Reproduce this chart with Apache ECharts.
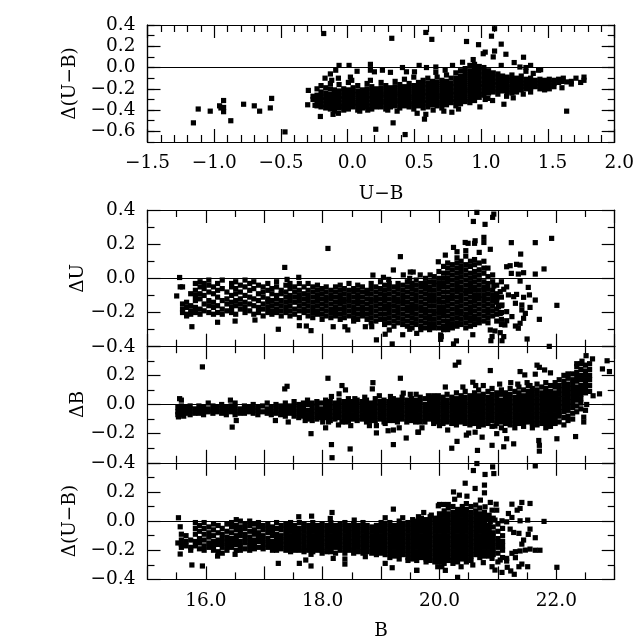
<!DOCTYPE html>
<html><head><meta charset="utf-8">
<style>html,body{margin:0;padding:0;background:#fff}#c{width:638px;height:638px}</style>
<script src="https://cdn.jsdelivr.net/npm/echarts@6/dist/echarts.min.js"></script>
</head><body><div id="c"></div>
<script>
const colourTicks = [-1.5,-1,-.5,0,.5,1,1.5,2];
const magnitudeLabels = [16,18,20,22];
const topPanelMajor = [-.6,-.4,-.2,0,.2,.4];
const fullLabels = [-.4,-.2,0,.2,.4];
const lowerLabels = [-.4,-.2,0,.2];

const topOutliers = [[-1.156,-.52],[-1.12,-.39],[-1.03,-.41],[-.96,-.36],[-.95,-.38],[-.93,-.31],[-.93,-.415],[-.93,-.375],[-.876,-.5],[-.78,-.345],[-.7,-.36],[-.66,-.41],[-.58,-.38],[-.57,-.29],[-.47,-.605],[-.295,-.215],[-.3,-.35],[-.245,-.355],[-.205,-.46],[-.18,.32],[.33,.275],[.585,.33],[.63,.265],[.21,-.58],[.34,-.52],[.43,-.63],[.52,-.43],[.585,-.44],[.575,-.485],[1.1,.365],[1.077,.295],[.89,.245],[.98,.215],[1.15,.22],[1.015,.13],[1.03,.145],[1.1,.155],[1.09,.1],[1.185,.125],[1.317,.097],[1.247,.047],[.94,.075],[.86,.05],[.785,.02],[1.15,.02],[1.29,.005],[1.37,.02],[1.335,0],[1.335,-.035],[1.39,-.055],[1.43,-.025],[1.445,-.02],[1.64,-.41],[1.17,-.345],[.99,-.37],[1.05,-.29],[1.085,-.31],[1.03,-.3],[1.19,-.27],[1.24,-.285],[1.315,-.25],[-.065,.02],[.01,.02],[-.09,-.025],[.07,-.035],[.17,.03],[.17,-.025],[.2,-.04],[.26,-.025],[.32,-.045],[.41,0],[.44,-.04],[.5,-.04],[.535,.02],[.59,0],[.66,.005],[.66,-.045],[.73,-.025],[-.17,-.1],[-.13,-.06],[-.12,-.12],[-.07,-.1],[.02,-.09],[.03,-.12],[.17,-.12],[.15,-.4],[-.11,-.44],[-.07,-.43],[.09,-.41],[.3,-.4],[.37,-.41],[.72,-.41],[.78,-.42],[.64,-.4],[.83,-.39]];
const topColumns = [
[-.26,-.27,-.3],[-.23,-.2,-.26,-.29,-.33,-.36],[-.2,-.17,-.23,-.27,-.3,-.34,-.37],[-.165,-.19,-.24,-.28,-.31,-.35,-.38],[-.13,-.15,-.2,-.25,-.29,-.32,-.36,-.39],[-.1,-.21,-.24,-.27,-.31,-.34,-.37,-.41],[-.065,-.16,-.22,-.26,-.29,-.33,-.36,-.38],[-.03,-.2,-.23,-.27,-.3,-.34,-.37,-.4],[.005,-.14,-.21,-.25,-.28,-.32,-.35,-.39],[.04,-.19,-.23,-.27,-.31,-.34,-.37],[.075,-.17,-.22,-.25,-.29,-.33,-.36,-.4],[.11,-.21,-.24,-.28,-.31,-.35,-.38],[.145,-.15,-.2,-.23,-.27,-.3,-.34,-.37],[.18,-.18,-.22,-.26,-.29,-.33,-.36,-.39],[.215,-.2,-.24,-.27,-.31,-.34,-.37],[.25,-.14,-.19,-.23,-.26,-.3,-.33,-.37],[.285,-.17,-.21,-.25,-.28,-.32,-.35,-.39],[.32,-.19,-.23,-.27,-.3,-.34,-.37],[.355,-.13,-.18,-.22,-.25,-.29,-.32,-.36],[.39,-.16,-.2,-.24,-.27,-.31,-.34,-.38],[.425,-.11,-.18,-.22,-.26,-.29,-.33,-.36],[.46,-.15,-.19,-.23,-.27,-.3,-.34,-.37],[.495,-.09,-.17,-.21,-.25,-.28,-.32,-.35,-.39],[.53,-.14,-.18,-.22,-.26,-.3,-.33,-.36],[.565,-.12,-.16,-.2,-.24,-.27,-.31,-.34,-.38],[.6,-.1,-.15,-.19,-.23,-.26,-.3,-.33,-.37],[.635,-.13,-.17,-.21,-.25,-.28,-.32,-.35],[.67,-.09,-.14,-.18,-.22,-.26,-.29,-.33,-.36],[.705,-.12,-.16,-.2,-.24,-.27,-.31,-.34,-.38],[.74,-.07,-.13,-.17,-.21,-.25,-.28,-.32,-.35],[.775,-.1,-.15,-.19,-.23,-.26,-.3,-.33],[.81,-.05,-.1,-.14,-.18,-.22,-.25,-.29,-.32,-.36],[.845,-.03,-.08,-.12,-.16,-.2,-.24,-.27,-.31,-.34],[.88,-.01,-.05,-.09,-.13,-.17,-.21,-.24,-.28,-.32],[.915,.02,-.03,-.07,-.11,-.15,-.19,-.22,-.26,-.3,-.33],[.95,.03,-.01,-.05,-.09,-.13,-.17,-.2,-.24,-.27,-.31],[.985,.01,-.03,-.07,-.11,-.15,-.18,-.22,-.25,-.28],[1.02,0,-.04,-.08,-.12,-.16,-.19,-.23,-.26],[1.055,-.03,-.07,-.1,-.14,-.17,-.21,-.24],[1.09,-.05,-.09,-.13,-.16,-.2,-.23],[1.125,-.06,-.1,-.14,-.17,-.21,-.25],[1.16,-.08,-.11,-.15,-.18,-.22],[1.195,-.09,-.12,-.16,-.19,-.23],[1.23,-.07,-.11,-.14,-.18,-.21,-.24],[1.265,-.1,-.13,-.17,-.2,-.23],[1.3,-.08,-.12,-.15,-.18,-.21],[1.335,-.11,-.14,-.17,-.2],[1.37,-.1,-.13,-.16,-.19,-.23],[1.405,-.12,-.15,-.18],[1.44,-.11,-.14,-.17,-.2],[1.475,-.12,-.15,-.18,-.21],[1.51,-.11,-.14,-.17,-.2],[1.545,-.12,-.15,-.18],[1.58,-.11,-.14],[1.605,-.19,-.13],[1.615,-.1],[1.64,-.135],[1.675,-.155,-.13],[1.71,-.1],[1.745,-.14],[1.77,-.09,-.12]];

const uOutliers = [[15.55,.005],[15.5,-.103],[15.56,-.05],[15.76,-.283],[16.2,-.257],[16.5,-.25],[16.84,-.244],[17.24,-.298],[17.35,.064],[17.39,-.006],[17.59,.006],[17.6,-.277],[17.72,-.279],[17.8,-.306],[18.09,.175],[18.18,-.283],[18.38,-.283],[18.43,-.302],[18.73,-.283],[18.84,-.283],[18.92,-.36],[19.07,-.327],[19.14,-.302],[19.19,-.384],[19.37,-.33],[19.49,-.298],[19.61,-.322],[20.03,-.341],[19.33,.127],[19.21,.049],[18.86,.019],[19.5,.037],[19.55,.037],[20.1,.136],[19.98,.097],[19.04,.006],[19.13,-.006],[19.38,.02],[19.49,0],[19.67,.02],[19.84,.02],[20.64,.386],[20.93,.376],[20.91,.357],[20.58,.333],[20.78,.316],[21.92,.234],[21.23,.209],[21.64,.209],[20.44,.21],[20.49,.205],[20.61,.22],[20.6,.205],[20.76,.24],[20.76,.21],[20.24,.181],[20.45,.162],[20.87,.17],[20.68,.152],[20.3,.156],[21.39,.142],[21.79,.055],[21.32,.082],[21.38,.078],[21.21,.074],[21.15,.068],[21.64,.025],[21.44,.033],[21.35,.025],[21.23,.029],[21.38,-.016],[21.52,-.053],[22.01,-.158],[21.64,-.127],[21.55,-.17],[21.71,-.24],[21.5,-.355],[21.88,-.398],[20.87,-.302],[20.95,-.308],[21.04,-.318],[20.9,-.341],[20.88,-.365],[21.1,-.341],[21.07,-.365],[20.29,-.366],[20.24,-.384],[20.57,-.33],[20.02,-.331],[20.02,-.357],[21.15,-.05],[21.1,-.064],[20.93,-.045],[21.04,-.078],[20.98,-.117],[21.18,-.097],[21.27,-.107],[21.32,-.094],[21.44,-.111],[21.54,-.097],[21.3,-.146],[21.41,-.156],[21.41,-.185],[21.47,-.205],[21.44,-.234],[21.38,-.263],[21.3,-.279],[21.35,-.292],[21.24,-.224],[21.15,-.248],[21.12,-.273],[21.04,-.205],[21.01,-.166],[21.07,-.156],[21.15,-.195]];
const uColumns = [
[15.6,-.05,-.15,-.18,-.2],[15.67,-.14,-.17,-.21,-.22],[15.74,-.09,-.16,-.19,-.21],[15.82,-.03,-.07,-.1,-.13,-.17,-.2],[15.9,-.02,-.05,-.09,-.12,-.18,-.21],[15.97,-.03,-.06,-.1,-.15,-.19],[16.05,-.01,-.04,-.08,-.13,-.16,-.2],[16.13,-.05,-.09,-.14,-.17,-.21],[16.2,-.03,-.07,-.11,-.16,-.2],[16.28,-.01,-.06,-.13,-.18,-.21],[16.36,-.08,-.12,-.15,-.19],[16.44,-.03,-.05,-.1,-.14,-.17,-.2],[16.51,-.02,-.06,-.09,-.13,-.16,-.21],[16.59,-.04,-.08,-.12,-.15,-.18],[16.67,-.01,-.05,-.1,-.14,-.17,-.2],[16.75,-.03,-.07,-.11,-.15,-.19],[16.82,-.02,-.06,-.12,-.16,-.21],[16.9,-.04,-.09,-.13,-.17,-.2],[16.98,-.05,-.08,-.11,-.15,-.18,-.22],[17.06,-.03,-.07,-.12,-.14,-.17,-.2],[17.13,-.06,-.09,-.13,-.16,-.19,-.21],[17.21,-.02,-.05,-.1,-.12,-.15,-.18,-.2],[17.29,-.07,-.09,-.13,-.16,-.19,-.22],[17.37,-.04,-.08,-.11,-.14,-.17,-.2],[17.44,-.03,-.06,-.1,-.13,-.16,-.19,-.22],[17.52,-.05,-.08,-.11,-.14,-.18,-.21],[17.6,-.03,-.07,-.1,-.13,-.16,-.19,-.23],[17.68,-.05,-.09,-.12,-.15,-.18,-.2],[17.75,-.03,-.07,-.1,-.13,-.16,-.19,-.22],[17.83,-.05,-.08,-.11,-.14,-.17,-.2,-.23],[17.91,-.04,-.07,-.1,-.13,-.16,-.19,-.21],[17.99,-.06,-.09,-.12,-.15,-.18,-.21,-.24],[18.06,-.05,-.08,-.11,-.13,-.16,-.19,-.22],[18.14,-.07,-.1,-.12,-.15,-.18,-.2,-.23],[18.22,-.05,-.08,-.11,-.14,-.17,-.2,-.22],[18.3,-.04,-.07,-.1,-.13,-.15,-.18,-.21,-.24],[18.37,-.06,-.09,-.12,-.14,-.17,-.2,-.23],[18.45,-.03,-.07,-.1,-.13,-.16,-.19,-.22],[18.53,-.06,-.08,-.11,-.14,-.17,-.2,-.23,-.25],[18.6,-.04,-.07,-.1,-.13,-.15,-.18,-.21,-.24],[18.68,-.05,-.08,-.11,-.14,-.17,-.2,-.22],[18.76,-.07,-.09,-.12,-.15,-.18,-.21,-.24],[18.83,-.03,-.06,-.09,-.12,-.14,-.17,-.2,-.23,-.26],[18.91,-.05,-.08,-.11,-.13,-.16,-.19,-.22,-.25],[18.99,-.02,-.06,-.09,-.12,-.15,-.18,-.21,-.24],[19.06,-.04,-.07,-.1,-.13,-.16,-.18,-.21,-.24,-.27],[19.14,-.03,-.06,-.09,-.12,-.15,-.17,-.2,-.23,-.26],[19.22,-.05,-.08,-.11,-.13,-.16,-.19,-.22,-.25,-.28],[19.29,-.03,-.06,-.09,-.12,-.14,-.17,-.2,-.23,-.26],[19.37,-.04,-.07,-.1,-.13,-.15,-.18,-.21,-.24,-.27],[19.45,-.02,-.05,-.08,-.11,-.14,-.17,-.19,-.22,-.25,-.28],[19.53,-.03,-.06,-.09,-.12,-.15,-.17,-.2,-.23,-.26,-.29],[19.6,-.01,-.04,-.07,-.1,-.13,-.16,-.18,-.21,-.24,-.27],[19.68,-.03,-.05,-.08,-.11,-.14,-.17,-.19,-.22,-.25,-.28,-.3],[19.76,0,-.03,-.06,-.09,-.12,-.15,-.18,-.2,-.23,-.26,-.29],[19.83,-.02,-.05,-.07,-.1,-.13,-.16,-.19,-.22,-.24,-.27,-.3],[19.91,.01,-.02,-.04,-.07,-.1,-.13,-.16,-.19,-.21,-.24,-.27,-.29],[19.99,.04,0,-.03,-.06,-.09,-.12,-.14,-.17,-.2,-.23,-.26,-.29],[20.07,.07,.03,0,-.03,-.05,-.08,-.11,-.14,-.17,-.2,-.22,-.25,-.28,-.3],[20.14,.09,.06,.03,0,-.02,-.05,-.08,-.11,-.13,-.16,-.19,-.22,-.25,-.27,-.3],[20.22,.05,.08,.02,-.01,-.04,-.07,-.1,-.12,-.15,-.18,-.21,-.24,-.27,-.29],[20.3,.12,.09,.06,.03,0,-.03,-.06,-.08,-.11,-.14,-.17,-.2,-.23,-.26,-.28],[20.37,.1,.07,.04,.01,-.02,-.05,-.07,-.1,-.13,-.16,-.19,-.21,-.24,-.27],[20.45,.13,.08,.05,.02,-.01,-.04,-.07,-.09,-.12,-.15,-.18,-.21,-.23,-.26,-.29],[20.53,.1,.07,.03,0,-.03,-.06,-.08,-.11,-.14,-.17,-.2,-.23,-.25,-.28],[20.6,.11,.08,.04,.01,-.02,-.05,-.07,-.1,-.13,-.16,-.19,-.22,-.24,-.27],[20.68,.09,.05,.02,-.01,-.04,-.07,-.1,-.12,-.15,-.18,-.21,-.24,-.26],[20.76,.1,.06,.03,-.02,-.05,-.07,-.1,-.13,-.16,-.19,-.22,-.25],[20.83,.06,.01,-.03,-.06,-.09,-.12,-.15,-.18,-.2,-.23,-.26],[20.91,.02,-.02,-.07,-.1,-.13,-.16,-.19,-.22],[20.98,-.04,-.09,-.14,-.18,-.21,-.25],[21.06,-.02,-.11,-.16,-.2,-.24,-.27]];

const bOutliers = [[15.94,.258],[17.35,.107],[17.39,.125],[16.42,.03],[16.45,-.155],[16.52,-.11],[17.19,-.11],[17.41,-.12],[17.8,-.2],[17.82,-.11],[18.09,.18],[18.15,.055],[18.28,.073],[18.33,.13],[18.39,.1],[18.15,-.275],[18.16,-.365],[18.47,-.305],[18.86,.15],[18.85,.107],[19.33,.18],[19.38,.078],[19.81,.06],[20.1,.12],[18.92,-.195],[19.21,-.275],[19.31,-.16],[19.21,-.175],[19.12,-.18],[19.43,-.23],[19.63,-.19],[19.7,-.16],[20,-.145],[20.14,-.175],[18,-.12],[18.05,-.16],[18.1,-.12],[18.27,-.14],[18.33,-.12],[18.4,-.12],[18.48,-.145],[18.8,-.145],[18.92,-.145],[19.07,-.13],[17.7,-.11],[20.27,.27],[20.33,.29],[20.87,.233],[20.57,.153],[21.38,.226],[21.46,.203],[21.64,.208],[21.67,.27],[21.71,.255],[21.8,.237],[21.9,.217],[22.35,.28],[22.44,.297],[22.51,.335],[22.62,.313],[22.87,.3],[22.79,.244],[22.91,.226],[22.74,.073],[22.63,.06],[19.64,-.19],[20.21,-.3],[20.3,-.253],[20.46,-.21],[20.5,-.196],[20.61,-.19],[20.73,-.224],[20.65,-.315],[20.9,-.28],[21.1,-.29],[21.15,-.235],[21.27,-.27],[20.95,-.148],[20.98,-.2],[21.12,-.178],[21.7,-.247],[21.71,-.28],[21.71,-.32],[22.01,-.235],[22.33,-.22],[22.47,-.087],[22.47,-.12],[22.5,-.04],[22.52,0],[15.55,.04],[15.58,.03],[15.53,-.085],[15.62,-.08],[18.55,.04],[18.72,.05],[18.97,.06],[19.16,.055],[19.5,.07],[19.6,.07],[19.9,.06],[20.4,.12],[20.62,.13],[20.75,.13],[21.03,.14],[21.22,.15],[21.34,.14],[21.5,.15],[21.55,.13]];
const bColumns = [
[15.52,-.02,-.05,-.07],[15.58,-.01,-.03,-.06,-.07],[15.65,-.02,-.04,-.06],[15.73,-.01,-.03,-.05,-.07],[15.81,-.03,-.06],[15.88,-.01,-.04,-.06],[15.96,-.02,-.05,-.07],[16.04,.01,-.03,-.05],[16.12,-.01,-.04,-.06],[16.19,-.02,-.05],[16.27,0,-.03,-.06],[16.35,-.02,-.04,-.07],[16.43,-.01,-.03,-.05],[16.5,.01,-.02,-.05,-.07],[16.58,-.03,-.06],[16.66,-.01,-.04,-.06],[16.74,-.02,-.05],[16.81,0,-.03,-.06],[16.89,-.02,-.04,-.07],[16.97,-.01,-.05],[17.05,.01,-.03,-.06],[17.12,-.02,-.05,-.07],[17.2,0,-.03,-.06],[17.28,-.01,-.04,-.07],[17.36,.01,-.02,-.05,-.08],[17.43,-.01,-.04,-.06],[17.51,.02,-.02,-.05,-.08],[17.59,0,-.03,-.06,-.09],[17.67,.01,-.02,-.05,-.08],[17.74,.03,0,-.04,-.07,-.1],[17.82,.01,-.02,-.05,-.08],[17.9,.02,-.01,-.04,-.07,-.1],[17.97,.01,-.03,-.06,-.09],[18.05,.03,0,-.03,-.06,-.09],[18.13,.02,-.02,-.05,-.08,-.11],[18.21,.01,-.02,-.05,-.08,-.1],[18.28,.03,0,-.03,-.06,-.09],[18.36,.02,-.01,-.04,-.07,-.1],[18.44,.04,.01,-.02,-.05,-.08,-.11],[18.52,.02,-.01,-.04,-.07,-.1],[18.59,.03,0,-.03,-.06,-.09,-.11],[18.67,.02,-.01,-.04,-.07,-.1],[18.75,.03,0,-.03,-.06,-.09,-.12],[18.82,.01,-.02,-.05,-.08,-.11],[18.9,.04,.01,-.02,-.05,-.08,-.11],[18.98,.02,-.01,-.04,-.07,-.1],[19.05,.03,0,-.03,-.06,-.09,-.12],[19.13,.02,-.02,-.05,-.08,-.11],[19.21,.04,.01,-.02,-.05,-.08,-.11],[19.28,.03,0,-.03,-.06,-.09,-.12],[19.36,.05,.02,-.01,-.04,-.07,-.1],[19.44,.03,0,-.03,-.06,-.09,-.12],[19.52,.04,.01,-.02,-.05,-.08,-.11],[19.59,.03,0,-.03,-.06,-.09,-.12],[19.67,.05,.02,-.01,-.04,-.07,-.1,-.12],[19.75,.04,0,-.03,-.06,-.09,-.12],[19.83,.05,.02,-.01,-.04,-.07,-.1],[19.9,.04,.01,-.02,-.05,-.08,-.11,-.13],[19.98,.06,.03,0,-.03,-.06,-.09,-.12],[20.06,.05,.02,-.01,-.04,-.07,-.1,-.13],[20.13,.07,.03,0,-.03,-.06,-.09,-.12],[20.21,.05,.02,-.01,-.04,-.07,-.1,-.13],[20.29,.08,.04,.01,-.02,-.05,-.08,-.11,-.14],[20.37,.06,.03,0,-.03,-.06,-.09,-.12],[20.44,.09,.05,.02,-.01,-.04,-.07,-.1,-.13],[20.52,.06,.03,0,-.03,-.06,-.09,-.12,-.14],[20.6,.08,.05,.02,-.01,-.04,-.07,-.1,-.13],[20.67,.1,.06,.03,0,-.03,-.06,-.09,-.12,-.15],[20.75,.07,.04,.01,-.02,-.05,-.08,-.11,-.14],[20.83,.09,.05,.02,-.01,-.04,-.07,-.1,-.13],[20.9,.11,.07,.04,.01,-.02,-.05,-.08,-.11,-.15],[20.98,.08,.05,.02,-.01,-.04,-.07,-.1,-.13],[21.06,.1,.07,.03,0,-.03,-.06,-.09,-.12,-.16],[21.13,.08,.05,.02,-.01,-.04,-.07,-.1,-.13],[21.21,.11,.07,.04,.01,-.02,-.05,-.08,-.11,-.14],[21.29,.09,.05,.02,-.01,-.04,-.07,-.1,-.13,-.16],[21.36,.12,.08,.05,.02,-.01,-.04,-.07,-.1,-.13],[21.44,.1,.06,.03,0,-.03,-.06,-.09,-.12,-.15],[21.52,.13,.09,.06,.03,0,-.03,-.06,-.09,-.12],[21.59,.11,.08,.05,.02,-.01,-.04,-.07,-.1,-.13,-.16],[21.67,.14,.1,.07,.04,.01,-.02,-.05,-.08,-.11,-.14],[21.75,.12,.08,.05,.02,-.01,-.04,-.07,-.1,-.13],[21.82,.15,.11,.08,.05,.02,-.01,-.04,-.07,-.1,-.13,-.16],[21.9,.13,.09,.06,.03,0,-.03,-.06,-.09,-.12,-.15],[21.98,.15,.12,.08,.05,.02,-.01,-.04,-.07,-.1,-.13],[22.05,.17,.13,.1,.07,.04,.01,-.02,-.05,-.08,-.12],[22.13,.2,.16,.13,.1,.07,.04,.01,-.02,-.05,-.09,-.14],[22.2,.21,.18,.14,.11,.08,.05,.02,-.01,-.04,-.08,-.11],[22.28,.21,.17,.14,.11,.08,.05,.02,-.02,-.06,-.1],[22.35,.26,.22,.19,.16,.12,.09,.06,.03,-.01,-.05],[22.42,.28,.24,.2,.17,.13,.1,.07,.04,.01,-.03],[22.5,.27,.23,.2,.17,.14,.11,.08],[22.57,.28,.24,.2,.17,.13,.09]];

const diffOutliers = [[20.64,.395],[20.91,.372],[21.64,.379],[20.58,.347],[20.78,.32],[20.93,.326],[20.44,.26],[20.77,.247],[20.61,.224],[20.77,.194],[20.24,.2],[20.34,.178],[20.26,.15],[20.47,.171],[20.7,.144],[20.87,.128],[20.97,.116],[21.24,.116],[21.41,.128],[21.55,.121],[20,.114],[20.07,.114],[20.78,.098],[20.9,.075],[20.98,.075],[21.18,.052],[21.33,.075],[21.38,.087],[21.24,.025],[21.38,.002],[21.51,.007],[21.79,-.002],[20.95,.007],[21.07,.002],[21.15,-.005],[20.87,-.005],[21.55,-.055],[21.21,-.055],[21.27,-.078],[21.36,-.084],[21.52,-.091],[21.64,-.114],[21.44,-.13],[21.41,-.158],[21.55,-.192],[21.64,-.2],[21.72,-.2],[21.47,-.199],[21.38,-.205],[21.3,-.21],[21.24,-.221],[21.3,-.251],[21.15,-.256],[21.04,-.267],[21.15,-.274],[21.41,-.295],[21.36,-.313],[21.51,-.313],[22.01,-.317],[20.9,-.313],[20.95,-.336],[21.07,-.352],[21.16,-.317],[21.22,-.342],[21.28,-.365],[20.31,-.386],[19.61,-.338],[20.1,-.338],[19.97,-.313],[20.04,-.313],[20.37,-.313],[20.57,-.301],[20.75,-.285],[20.9,-.256],[15.53,.023],[15.56,-.039],[15.56,-.226],[15.76,-.301],[15.94,-.308],[16.2,-.24],[16.5,-.228],[17.24,-.29],[17.59,.03],[17.81,.034],[17.6,-.29],[17.71,-.267],[17.8,-.308],[17.8,-.228],[18.16,.059],[18.13,.018],[18.18,-.256],[18.38,-.26],[18.38,-.295],[18.73,-.244],[18.54,.007],[19.21,.082],[19.07,.023],[19.37,.023],[19.73,.059],[19.64,.03],[19.86,.041],[19.07,-.29],[19.19,-.32],[19.61,-.338],[19.98,.105],[20.15,.114]];
const diffColumns = [
[15.52,-.15],[15.58,-.09,-.13,-.16,-.18],[15.66,-.1,-.14,-.17],[15.74,-.13,-.18,-.2],[15.82,-.01,-.05,-.09,-.14,-.17],[15.89,-.03,-.07,-.12,-.15,-.19],[15.97,-.01,-.05,-.09,-.13,-.17,-.2],[16.05,-.04,-.08,-.11,-.15,-.18],[16.13,-.02,-.06,-.1,-.14,-.17,-.2],[16.21,-.03,-.08,-.13,-.16,-.21],[16.28,-.05,-.09,-.12,-.15,-.18,-.22],[16.36,-.02,-.07,-.11,-.14,-.17,-.2],[16.44,-.01,-.04,-.08,-.12,-.15,-.18],[16.52,.01,-.03,-.06,-.1,-.13,-.16,-.2],[16.59,0,-.04,-.07,-.1,-.14,-.17,-.2],[16.67,-.02,-.05,-.09,-.12,-.15,-.19],[16.75,0,-.03,-.07,-.11,-.14,-.17,-.2],[16.83,-.02,-.06,-.09,-.13,-.16,-.19],[16.9,-.01,-.04,-.08,-.11,-.14,-.18],[16.98,-.03,-.06,-.1,-.13,-.16,-.19],[17.06,-.02,-.05,-.08,-.12,-.15,-.18],[17.14,-.04,-.07,-.1,-.14,-.17,-.2],[17.21,-.01,-.05,-.09,-.12,-.15,-.18,-.2],[17.29,-.03,-.06,-.1,-.13,-.16,-.19],[17.37,-.02,-.05,-.08,-.11,-.14,-.17,-.2],[17.45,-.01,-.04,-.07,-.1,-.13,-.16,-.19,-.21],[17.52,-.03,-.06,-.09,-.12,-.15,-.18,-.2],[17.6,-.01,-.05,-.08,-.11,-.14,-.17,-.2],[17.68,-.02,-.04,-.07,-.1,-.13,-.16,-.19,-.21],[17.76,-.03,-.06,-.09,-.12,-.15,-.18,-.2],[17.83,-.01,-.04,-.07,-.1,-.13,-.16,-.19,-.21],[17.91,-.03,-.06,-.09,-.12,-.15,-.18,-.2],[17.99,-.02,-.05,-.08,-.11,-.14,-.17,-.2,-.22],[18.07,-.03,-.06,-.09,-.12,-.15,-.18,-.21],[18.14,-.01,-.04,-.07,-.1,-.13,-.16,-.19,-.21],[18.22,-.03,-.06,-.09,-.12,-.15,-.18,-.22],[18.3,-.02,-.05,-.08,-.11,-.14,-.17,-.2],[18.38,-.01,-.04,-.07,-.1,-.13,-.16,-.19,-.22],[18.45,-.03,-.06,-.09,-.12,-.15,-.18,-.2],[18.53,-.02,-.05,-.08,-.11,-.14,-.17,-.2,-.22],[18.61,-.03,-.06,-.09,-.12,-.15,-.18,-.21],[18.69,-.01,-.04,-.07,-.1,-.13,-.16,-.19,-.22],[18.76,-.03,-.06,-.09,-.12,-.15,-.18,-.21],[18.84,-.04,-.07,-.1,-.13,-.16,-.19,-.22],[18.92,-.03,-.05,-.08,-.11,-.14,-.17,-.2,-.23],[19,-.01,-.04,-.07,-.1,-.13,-.16,-.19,-.22],[19.07,-.02,-.05,-.08,-.11,-.14,-.17,-.2,-.23],[19.15,-.01,-.04,-.07,-.1,-.13,-.16,-.19,-.22,-.25],[19.23,-.03,-.06,-.09,-.12,-.15,-.18,-.21,-.24],[19.31,0,-.03,-.06,-.09,-.11,-.14,-.17,-.2,-.23,-.26],[19.38,-.02,-.05,-.08,-.11,-.14,-.17,-.2,-.23],[19.46,-.01,-.04,-.07,-.1,-.13,-.16,-.19,-.22,-.25,-.27],[19.54,.01,-.02,-.05,-.08,-.11,-.14,-.17,-.2,-.23,-.26],[19.61,0,-.03,-.06,-.09,-.12,-.15,-.18,-.21,-.24,-.27],[19.69,.02,-.01,-.04,-.07,-.1,-.13,-.16,-.19,-.22,-.25],[19.77,.01,-.02,-.05,-.08,-.11,-.14,-.17,-.2,-.23,-.26,-.28],[19.84,.03,0,-.03,-.06,-.09,-.12,-.15,-.18,-.21,-.24,-.27],[19.92,.02,-.01,-.04,-.07,-.1,-.13,-.16,-.19,-.22,-.25,-.28],[20,.05,.02,-.01,-.04,-.07,-.1,-.13,-.16,-.19,-.22,-.25,-.28],[20.08,.07,.04,.01,-.02,-.05,-.08,-.11,-.14,-.17,-.2,-.23,-.26,-.29],[20.15,.09,.05,.02,-.01,-.04,-.07,-.1,-.13,-.16,-.19,-.22,-.25,-.27],[20.23,.1,.06,.03,0,-.03,-.06,-.09,-.12,-.15,-.18,-.21,-.24,-.27,-.29],[20.31,.08,.05,.02,-.01,-.04,-.07,-.1,-.13,-.16,-.19,-.22,-.25,-.28],[20.39,.1,.07,.04,.01,-.02,-.05,-.08,-.11,-.14,-.17,-.2,-.23,-.26],[20.46,.12,.08,.05,.02,-.01,-.04,-.07,-.1,-.13,-.16,-.19,-.22,-.25,-.28],[20.54,.1,.06,.03,0,-.03,-.06,-.09,-.12,-.15,-.18,-.21,-.24,-.27],[20.62,.11,.07,.04,.01,-.02,-.05,-.08,-.11,-.14,-.17,-.2,-.23],[20.69,.09,.05,.02,-.01,-.04,-.07,-.1,-.13,-.16,-.19,-.22,-.25],[20.77,.06,.03,0,-.03,-.06,-.09,-.12,-.15,-.18,-.21,-.24],[20.85,.04,.01,-.03,-.06,-.09,-.12,-.15,-.18,-.21,-.24],[20.92,.02,-.04,-.08,-.11,-.14,-.17,-.2,-.23],[21,-.02,-.07,-.12,-.15,-.18,-.22,-.28],[21.08,-.05,-.1,-.14,-.17,-.2,-.25]];

const flatten = (rows) => rows.flatMap(([x, ...ys]) => ys.map((y) => [x, y]));

const fmt = (v) => v.toFixed(1).replace('-', '\u2212');
const fmtTop = (v) => (v >= 0 ? '\u2002' : '') + fmt(v);
const FONT = 'DejaVu Serif';
const panels = [
  {top:25,height:117,xMin:-1.5,xMax:2,xInt:.5,xSplit:5,yMin:-.7,yMax:.4,xLabels:colourTicks,xFmt:fmtTop,xName:'U\u2212B',xGap:43,yName:'\u0394(U\u2212B)',yGap:68,data:flatten(topColumns).concat(topOutliers)},
  {top:210,height:136.7,xMin:15,xMax:23,xInt:1,xSplit:2,yMin:-.4,yMax:.4,xLabels:null,xName:'',yName:'\u0394U',yGap:60,labels:fullLabels,data:flatten(uColumns).concat(uOutliers)},
  {top:346.2,height:116.6,xMin:15,xMax:23,xInt:1,xSplit:2,yMin:-.4,yMax:.4,xLabels:null,xName:'',yName:'\u0394B',yGap:60,labels:lowerLabels,data:flatten(bColumns).concat(bOutliers)},
  {top:462.8,height:116.6,xMin:15,xMax:23,xInt:1,xSplit:2,yMin:-.4,yMax:.4,xLabels:magnitudeLabels,xFmt:fmt,xName:'B',xGap:42,yName:'\u0394(U\u2212B)',yGap:68,labels:lowerLabels,data:flatten(diffColumns).concat(diffOutliers)}
];
const LINE = {lineStyle:{color:'#000',width:1.2}};
const grid=[],xAxis=[],yAxis=[],series=[];
const text = {color:'#000',fontFamily:FONT,fontSize:18.5};
const yLabelText = {...text,padding:[10,0,0,0]};
panels.forEach((p,i)=>{
  grid.push({left:147.5,width:467.2,top:p.top,height:p.height,containLabel:false,outerBoundsMode:'none'});
  ['bottom','top'].forEach((pos)=>{
    const isBottom = pos==='bottom';
    xAxis.push({type:'value',gridIndex:i,position:pos,min:p.xMin,max:p.xMax,interval:p.xInt,splitLine:{show:false},
      axisLine:{show:true,onZero:false,...LINE},axisTick:{show:true,inside:true,length:13,...LINE},
      minorTick:{show:true,splitNumber:p.xSplit,length:7,...LINE},
      axisLabel:(isBottom&&p.xLabels)?{show:true,margin:12,...text,formatter:p.xFmt,customValues:p.xLabels}:{show:false},
      name:isBottom?p.xName:'',nameLocation:'middle',nameGap:p.xGap||0,nameMoveOverlap:false,nameTextStyle:text});
  });
  const yIdx=yAxis.length;
  if(i===0){
    ['left','right'].forEach((pos)=>{
      yAxis.push({type:'value',gridIndex:0,position:pos,min:p.yMin,max:p.yMax,interval:.1,splitLine:{show:false},
        axisLine:{show:true,onZero:false,...LINE},axisTick:{show:true,inside:true,length:7,...LINE},axisLabel:{show:false}});
      yAxis.push({type:'value',gridIndex:0,position:pos,min:p.yMin,max:p.yMax,splitLine:{show:false},
        axisLine:{show:true,onZero:false,...LINE},axisTick:{show:true,inside:true,length:13,customValues:topPanelMajor,...LINE},
        axisLabel:pos==='left'?{show:true,margin:12,...yLabelText,formatter:fmt,customValues:topPanelMajor}:{show:false},
        name:pos==='left'?p.yName:'',nameLocation:'middle',nameRotate:90,nameGap:p.yGap,nameMoveOverlap:false,nameTextStyle:text});
    });
  } else {
    ['left','right'].forEach((pos)=>{
      yAxis.push({type:'value',gridIndex:i,position:pos,min:p.yMin,max:p.yMax,interval:.2,splitLine:{show:false},
        axisLine:{show:true,onZero:false,...LINE},axisTick:{show:true,inside:true,length:13,...LINE},
        minorTick:{show:true,splitNumber:2,length:7,...LINE},
        axisLabel:pos==='left'?{show:true,margin:12,...yLabelText,formatter:fmt,customValues:p.labels}:{show:false},
        name:pos==='left'?p.yName:'',nameLocation:'middle',nameRotate:90,nameGap:p.yGap,nameMoveOverlap:false,nameTextStyle:text});
    });
  }
  series.push({type:'scatter',xAxisIndex:i*2,yAxisIndex:yIdx,data:p.data,symbol:'rect',symbolSize:5.2,
    itemStyle:{color:'#000',opacity:1},clip:false,progressive:0,large:false,silent:true,animation:false,
    markLine:{silent:true,symbol:'none',animation:false,label:{show:false},lineStyle:{color:'#000',width:1,type:'solid'},data:[{yAxis:0}]}});
});
const chart=echarts.init(document.getElementById('c'),null,{renderer:'canvas',width:638,height:638});
chart.setOption({animation:false,backgroundColor:'#fff',grid,xAxis,yAxis,series,tooltip:{show:false}});
</script></body></html>
